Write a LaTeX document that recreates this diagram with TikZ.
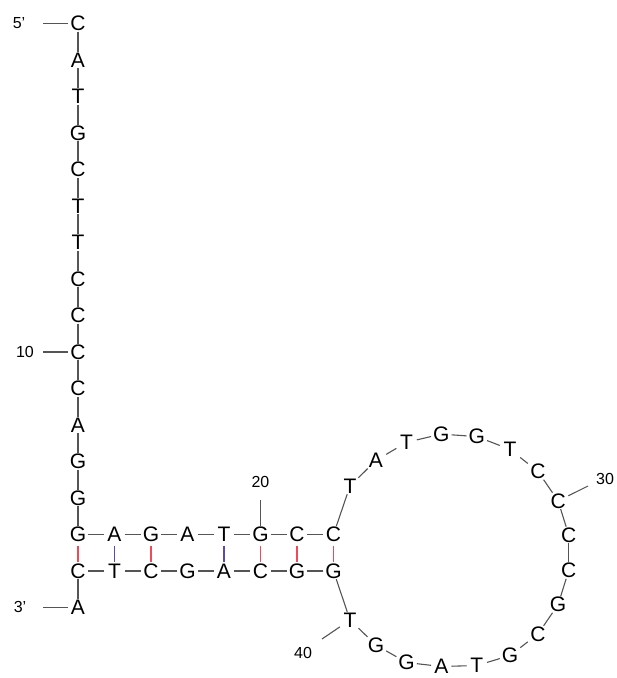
\documentclass[tikz,border=0pt]{standalone}
\usepackage{fontspec}
\setmainfont{Liberation Sans}
\definecolor{bond}{HTML}{555555}
\definecolor{gcpair}{HTML}{EE4A5A}
\definecolor{atpair}{HTML}{5A4AB0}
\begin{document}
\begin{tikzpicture}[x=1pt,y=-1pt,
  base/.style={rectangle,inner sep=0pt,minimum width=20pt,minimum height=16pt,font=\fontsize{21}{22}\selectfont},
  lbl/.style={inner sep=0pt,font=\fontsize{16}{17}\selectfont},
  bb/.style={draw=bond,line width=1.1pt},
  gcbond/.style={draw=gcpair,line width=1.2pt,shorten <=3pt,shorten >=0.5pt},
  atbond/.style={draw=atpair,line width=1.2pt,shorten <=3pt,shorten >=0.5pt}]
\useasboundingbox (0,0) rectangle (617,678);
% vertical strand 1-15
\foreach \b [count=\i] in {C,A,T,G,C,T,T,C,C,C,C,A,G,G,G}{
  \node[base] (n\i) at (78,{23.5+36.5*(\i-1)}) {\b};
}
% top stem row 16-22
\node[base] (n16) at (114.5,534.5) {A};
\node[base] (n17) at (151,534.5) {G};
\node[base] (n18) at (187.5,534.5) {A};
\node[base] (n19) at (224,534.5) {T};
\node[base] (n20) at (260.5,534.5) {G};
\node[base] (n21) at (297,534.5) {C};
\node[base] (n22) at (333.5,534.5) {C};
% loop 23-40
\node[base] (n23) at (350,486) {T};
\node[base] (n24) at (376,460.4) {A};
\node[base] (n25) at (406.6,442.3) {T};
\node[base] (n26) at (441.3,434.1) {G};
\node[base] (n27) at (476.8,436.6) {G};
\node[base] (n28) at (510,449.4) {T};
\node[base] (n29) at (538,471.5) {C};
\node[base] (n30) at (558.1,500.9) {C};
\node[base] (n31) at (568.7,534.9) {C};
\node[base] (n32) at (568.7,570.6) {C};
\node[base] (n33) at (558.1,604.6) {G};
\node[base] (n34) at (538,634) {C};
\node[base] (n35) at (510,655.5) {G};
\node[base] (n36) at (476.8,665.5) {T};
\node[base] (n37) at (441.3,666.5) {A};
\node[base] (n38) at (406.6,662.5) {G};
\node[base] (n39) at (376,645.1) {G};
\node[base] (n40) at (350,620) {T};
% bottom stem row 41-48
\node[base] (n41) at (333.5,571) {G};
\node[base] (n42) at (297,571) {G};
\node[base] (n43) at (260.5,571) {C};
\node[base] (n44) at (224,571) {A};
\node[base] (n45) at (187.5,571) {G};
\node[base] (n46) at (151,571) {C};
\node[base] (n47) at (114.5,571) {T};
\node[base] (n48) at (78,571) {C};
\node[base] (n49) at (78,607.5) {A};
% backbone
\foreach \i [evaluate=\i as \j using int(\i+1)] in {1,...,48}{
  \draw[bb] (n\i) -- (n\j);
}
% base pairs
\draw[gcbond] (n15) -- (n48);
\draw[atbond] (n16) -- (n47);
\draw[gcbond] (n17) -- (n46);
\draw[atbond] (n19) -- (n44);
\draw[gcbond] (n20) -- (n43);
\draw[gcbond] (n21) -- (n42);
\draw[gcbond] (n22) -- (n41);
% labels and ticks
\node[lbl] (l5) at (19,23) {5’};
\coordinate (t5) at (43,23.5);
\draw[bb] (t5) -- (n1);
\node[lbl] (l10) at (25,352) {10};
\coordinate (t10) at (43,352);
\draw[bb] (t10) -- (n10);
\node[lbl] (l3) at (20,607) {3’};
\coordinate (t3) at (43,607.5);
\draw[bb] (t3) -- (n49);
\node[lbl] (l20) at (260.5,482) {20};
\coordinate (t20) at (260.5,500);
\draw[bb] (t20) -- (n20);
\node[lbl] (l30) at (605,479) {30};
\coordinate (t30) at (588,486);
\draw[bb] (t30) -- (n30);
\node[lbl] (l40) at (303,653) {40};
\coordinate (t40) at (322,639);
\draw[bb] (t40) -- (n40);
\end{tikzpicture}
\end{document}
